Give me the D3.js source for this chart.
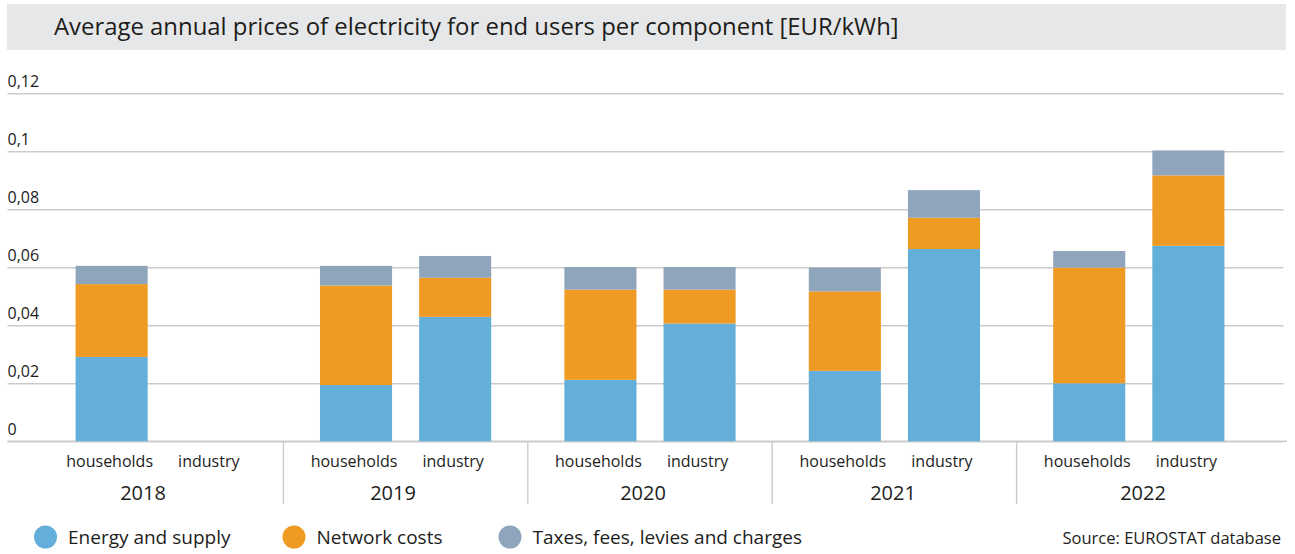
<!DOCTYPE html>
<html>
<head>
<meta charset="utf-8">
<script src="https://cdn.jsdelivr.net/npm/d3@7"></script>
<style>
  body { margin: 0; background: #fff; }
  text { font-family: "Open Sans", "Noto Sans", sans-serif; fill: #1d1d1b; }
</style>
</head>
<body>
<div id="viz"></div>
<script>
const years = ['2018', '2019', '2020', '2021', '2022']
const sectors = ['households', 'industry']
const components = ['Energy and supply', 'Network costs', 'Taxes, fees, levies and charges']
const colors = ['#63afd9', '#ef9a22', '#8fa5bb']
const yTicks = [0, 0.02, 0.04, 0.06, 0.08, 0.1, 0.12]

// one value per year/sector: 2018 hh, 2018 ind, 2019 hh, 2019 ind, ...
const energySupply = [0.0291, null, 0.0194, 0.0429, 0.0212, 0.0406, 0.0243, 0.0663, 0.0200, 0.0674]
const networkCosts = [0.0251, null, 0.0343, 0.0135, 0.0311, 0.0117, 0.0274, 0.0108, 0.0399, 0.0243]
const taxesFees    = [0.0063, null, 0.0068, 0.0075, 0.0078, 0.0078, 0.0082, 0.0095, 0.0057, 0.0086]

const rows = []
years.forEach((y, i) => sectors.forEach((s, j) => {
  const k = i * 2 + j
  if (energySupply[k] == null) return
  rows.push({year: y, sector: s, energy: energySupply[k], network: networkCosts[k], taxes: taxesFees[k]})
}))

const width = 1295
const height = 554

const svg = d3.select('#viz')
  .append('svg')
  .attr('width', width)
  .attr('height', height)

// title bar
svg.append('rect')
  .attr('x', 7).attr('y', 4)
  .attr('width', 1279).attr('height', 46)
  .attr('fill', '#e6e7e8')

svg.append('text')
  .attr('x', 54).attr('y', 35)
  .style('font-size', '23.9px')
  .text('Average annual prices of electricity for end users per component [EUR/kWh]')

// scales
const x0 = d3.scaleBand()
  .domain(years)
  .range([39, 1261])

const x1 = d3.scaleBand()
  .domain(sectors)
  .range([0, x0.bandwidth()])
  .paddingInner(0.273)
  .paddingOuter(0.369)

const yScale = d3.scaleLinear()
  .domain([0, 0.12])
  .range([441.3, 93.3])

const yearLabelX = d3.scaleBand()
  .domain(years)
  .range([18, 1268])

const fmt = d3.formatLocale({decimal: ',', thousands: '.', grouping: [3], currency: ['', '']}).format('~g')

// gridlines + y labels
const yAxis = svg.append('g')
  .attr('transform', 'translate(7.5,0)')
  .call(d3.axisRight(yScale).tickValues(yTicks).tickSize(1276).tickFormat(fmt))

yAxis.select('.domain').remove()
yAxis.selectAll('.tick line')
  .attr('stroke', '#cbcbcb')
  .attr('stroke-width', 1.4)
yAxis.selectAll('.tick text')
  .attr('x', 0)
  .attr('dy', -6.5)
  .attr('text-anchor', 'start')
  .style('font-size', '16px')
  .style('fill', '#1d1d1b')

// baseline extends a bit further
svg.append('line')
  .attr('x1', 7.5).attr('x2', 1287)
  .attr('y1', yScale(0)).attr('y2', yScale(0))
  .attr('stroke', '#cbcbcb')
  .attr('stroke-width', 1.6)

// stacked bars
const stacked = d3.stack().keys(['energy', 'network', 'taxes'])(rows)

const bars = svg.append('g')
stacked.forEach((layer, i) => {
  bars.selectAll(null)
    .data(layer)
    .join('rect')
    .attr('x', d => x0(d.data.year) + x1(d.data.sector))
    .attr('y', d => yScale(d[1]))
    .attr('width', x1.bandwidth())
    .attr('height', d => yScale(d[0]) - yScale(d[1]))
    .attr('fill', colors[i])
})

// group separators
svg.append('g')
  .selectAll('line')
  .data(years.slice(1))
  .join('line')
  .attr('x1', d => x0(d)).attr('x2', d => x0(d))
  .attr('y1', yScale(0)).attr('y2', 504)
  .attr('stroke', '#cbcbcb')
  .attr('stroke-width', 1.4)

// sector labels
const sectorLabels = years.flatMap(y => sectors.map(s => ({year: y, sector: s})))
svg.append('g')
  .selectAll('text')
  .data(sectorLabels)
  .join('text')
  .attr('x', d => x0(d.year) + x1(d.sector) + x1.bandwidth() / 2 - 2)
  .attr('y', 467)
  .attr('text-anchor', 'middle')
  .style('font-size', '16px')
  .text(d => d.sector)

// year labels
svg.append('g')
  .selectAll('text')
  .data(years)
  .join('text')
  .attr('x', d => yearLabelX(d) + yearLabelX.bandwidth() / 2)
  .attr('y', 499.5)
  .attr('text-anchor', 'middle')
  .style('font-size', '20px')
  .text(d => d)

// legend
const legendX = [45.5, 294, 510]
const legend = svg.append('g')
  .selectAll('g')
  .data(components)
  .join('g')
  .attr('transform', (d, i) => `translate(${legendX[i]},537)`)

legend.append('circle')
  .attr('r', 11.5)
  .attr('fill', (d, i) => colors[i])

legend.append('text')
  .attr('x', 22.5)
  .attr('y', 6.5)
  .style('font-size', '19px')
  .text(d => d)

svg.append('text')
  .attr('x', 1281).attr('y', 544)
  .attr('text-anchor', 'end')
  .style('font-size', '16.5px')
  .text('Source: EUROSTAT database')
</script>
</body>
</html>
